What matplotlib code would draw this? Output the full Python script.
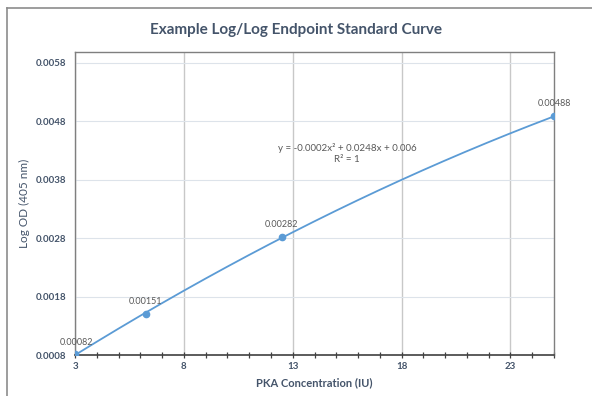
import matplotlib
matplotlib.use('Agg')
import matplotlib.pyplot as plt
import numpy as np
from matplotlib.ticker import MultipleLocator, FixedLocator

conc = [3, 6.25, 12.5, 25]
od = [0.00082, 0.00151, 0.00282, 0.00488]
od_labels = ['0.00082', '0.00151', '0.00282', '0.00488']
x_ticks = [3, 8, 13, 18, 23]
y_ticks = [0.0008, 0.0018, 0.0028, 0.0038, 0.0048, 0.0058]
title = 'Example Log/Log Endpoint Standard Curve'
equation = 'y = -0.0002x² + 0.0248x + 0.006\nR² = 1'

plt.rcParams['font.family'] = ['Lato', 'DejaVu Sans']
text_col = '#44546A'
line_col = '#5B9BD5'

fig = plt.figure(figsize=(5.92, 3.96), dpi=100)
ax = fig.add_axes([0.1267, 0.1023, 0.8091, 0.7664])

# outer chart border (right and bottom edges fall outside the picture)
fig.add_artist(plt.Line2D([7/592, 1], [1-8/396, 1-8/396], color='#8c8c8c', lw=1.2))
fig.add_artist(plt.Line2D([7/592, 7/592], [0, 1-8/396], color='#8c8c8c', lw=1.2))

# quadratic trendline
coef = np.polyfit(conc, od, 2)
xs = np.linspace(conc[0], conc[-1], 200)
ax.plot(xs, np.polyval(coef, xs), color=line_col, lw=1.3, zorder=3)
ax.plot(conc, od, 'o', color=line_col, ms=4.5, zorder=4)

offsets = [(1, 5), (0, 6), (0, 6), (0, 6)]
for x, y, lab, off in zip(conc, od, od_labels, offsets):
    ax.annotate(lab, (x, y), xytext=off, textcoords='offset points',
                ha='center', va='bottom', fontsize=6.5, color='#595959', zorder=5)

ax.set_xlim(3, 25)
ax.set_ylim(0.0008, 0.00598)
ax.xaxis.set_major_locator(FixedLocator(x_ticks))
ax.xaxis.set_minor_locator(MultipleLocator(1))
ax.yaxis.set_major_locator(FixedLocator(y_ticks))
ax.set_yticklabels(['%.4f' % v for v in y_ticks])

ax.grid(axis='x', which='major', color='#c8c8c8', lw=1.0)
ax.grid(axis='y', which='major', color='#dde3ea', lw=0.8)
ax.set_axisbelow(True)

for s in ['top', 'right', 'left']:
    ax.spines[s].set_color('#7f7f7f')
    ax.spines[s].set_linewidth(1.0)
ax.spines['bottom'].set_color('#404040')
ax.spines['bottom'].set_linewidth(1.2)

ax.tick_params(axis='x', which='both', direction='inout', length=5, width=0.9,
               color='#404040', labelsize=7, labelcolor=text_col, pad=2)
ax.tick_params(axis='y', which='both', length=0, labelsize=7, labelcolor=text_col, pad=6)
for lab in ax.get_xticklabels() + ax.get_yticklabels():
    lab.set_fontweight('bold')

ax.set_xlabel('PKA Concentration (IU)', fontsize=8, fontweight='bold', color=text_col, labelpad=5)
ax.set_ylabel('Log OD (405 nm)', fontsize=8.5, color=text_col, va='center', ha='center')
ax.yaxis.set_label_coords(-0.105, 0.5)

fig.text(0.5, 1 - 30/396, title, ha='center', va='center', fontsize=11,
         fontweight='bold', color=text_col)

ax.text(15.5, 0.00442, equation, ha='center', va='top', fontsize=7,
        color='#595959', linespacing=1.2)

fig.savefig('out.png', dpi=100)
